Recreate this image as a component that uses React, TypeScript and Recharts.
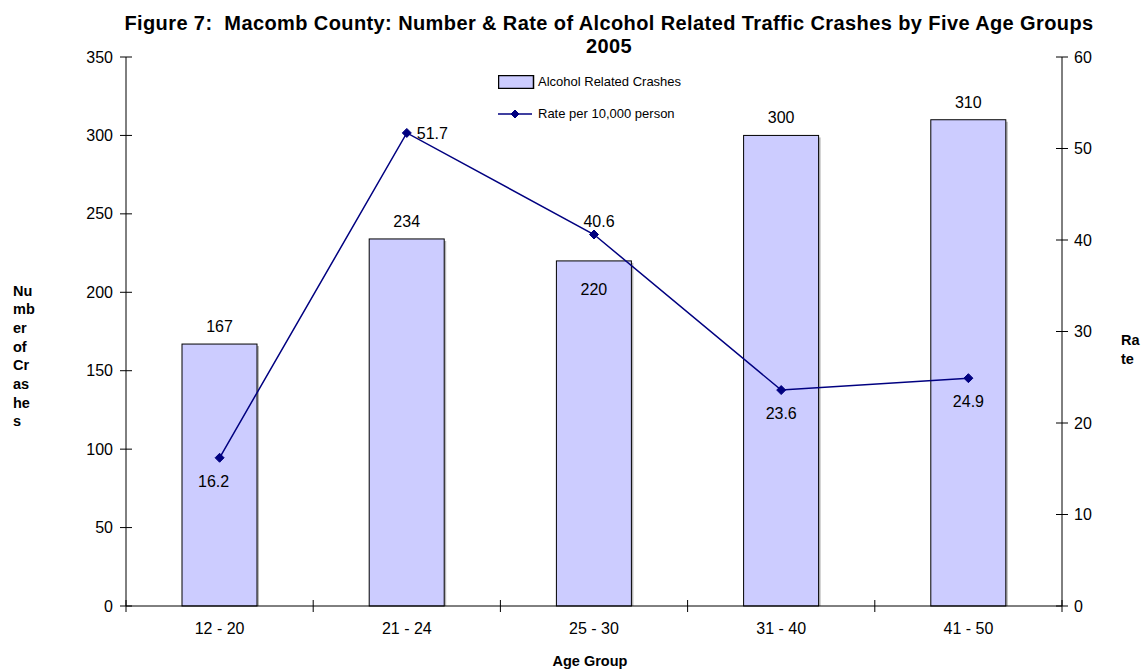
import React from "react";
import {
  ComposedChart,
  Bar,
  Line,
  XAxis,
  YAxis,
  Legend,
  LabelList,
} from "recharts";

const ageGroups = ["12 - 20", "21 - 24", "25 - 30", "31 - 40", "41 - 50"];
const crashes = [167, 234, 220, 300, 310];
const rates = [16.2, 51.7, 40.6, 23.6, 24.9];
const crashTicks = [0, 50, 100, 150, 200, 250, 300, 350];
const rateTicks = [0, 10, 20, 30, 40, 50, 60];

// where Excel put each rate label relative to its point
const rateLabelSpots = ["below-left", "right", "above", "below", "below"];
// bar labels that sit inside the bar instead of above it
const insideBarLabels = new Set(["25 - 30"]);

const data = ageGroups.map((age, i) => ({ age, crashes: crashes[i], rate: rates[i] }));

const W = 1144;
const H = 671;
const LEFT_W = 126;
const RIGHT_W = 82;
const TICK = 6;
const GAP = 7;
const FONT = "'Liberation Sans', Arial, sans-serif";
const NAVY = "#000080";
const BAR_FILL = "#CCCCFF";

const LeftTick = ({ x, y, payload }: any) => {
  const ax = x + TICK + GAP;
  return (
    <g>
      <line x1={ax - TICK} x2={ax + TICK} y1={y} y2={y} stroke="#000" />
      <text x={ax - 13} y={y} dy={5.5} textAnchor="end" fontSize={16} fill="#000" fontFamily={FONT}>
        {payload.value}
      </text>
    </g>
  );
};

const RightTick = ({ x, y, payload }: any) => {
  const ax = x - TICK - GAP;
  return (
    <g>
      <line x1={ax - TICK} x2={ax + TICK} y1={y} y2={y} stroke="#000" />
      <text x={ax + 12} y={y} dy={5.5} textAnchor="start" fontSize={16} fill="#000" fontFamily={FONT}>
        {payload.value}
      </text>
    </g>
  );
};

const step = (W - LEFT_W - RIGHT_W) / ageGroups.length;

const BottomTick = ({ x, y, payload, index }: any) => {
  const ay = y - TICK - GAP;
  return (
    <g>
      {index === 0 && (
        <line x1={x - step / 2} x2={x - step / 2} y1={ay - TICK} y2={ay + TICK} stroke="#000" />
      )}
      <line x1={x + step / 2} x2={x + step / 2} y1={ay - TICK} y2={ay + TICK} stroke="#000" />
      <text x={x} y={ay + 28} textAnchor="middle" fontSize={16} fill="#000" fontFamily={FONT}>
        {payload.value}
      </text>
    </g>
  );
};

const ShadowBar = (props: any) => {
  const { x, y, width, height } = props;
  if (!height) return null;
  return (
    <g>
      <rect x={x + width} y={y + 2} width={2} height={height - 2} fill="#b8b8b8" />
      <rect x={x} y={y} width={width} height={height} fill={BAR_FILL} stroke="#000" strokeWidth={1} />
    </g>
  );
};

const Diamond = ({ cx, cy, r = 4.5 }: any) => (
  <path d={`M${cx},${cy - r}L${cx + r},${cy}L${cx},${cy + r}L${cx - r},${cy}Z`} fill={NAVY} stroke={NAVY} />
);

const BarValue = (props: any) => {
  const { x, y, width, value, index } = props;
  const inside = insideBarLabels.has(ageGroups[index]);
  return (
    <text
      x={x + width / 2}
      y={inside ? y + 34 : y - 12}
      textAnchor="middle"
      fontSize={16}
      fill="#000"
      fontFamily={FONT}
    >
      {value}
    </text>
  );
};

const RateValue = (props: any) => {
  const { x, y, value, index } = props;
  const spot = rateLabelSpots[index];
  let tx = x;
  let ty = y + 29;
  let anchor: any = "middle";
  if (spot === "below-left") tx = x - 6;
  if (spot === "right") {
    tx = x + 10;
    ty = y + 6;
    anchor = "start";
  }
  if (spot === "above") {
    tx = x + 5;
    ty = y - 8;
  }
  return (
    <text x={tx} y={ty} textAnchor={anchor} fontSize={16} fill="#000" fontFamily={FONT}>
      {value}
    </text>
  );
};

const LegendBox = () => (
  <div style={{ fontFamily: FONT, fontSize: 13, color: "#000", lineHeight: "14px" }}>
    <div style={{ display: "flex", alignItems: "center", height: 14 }}>
      <svg width={38} height={14}>
        <rect x={0.5} y={0.5} width={35} height={13} fill={BAR_FILL} stroke="#000" strokeWidth={1.5} />
      </svg>
      <span style={{ marginLeft: 2 }}>Alcohol Related Crashes</span>
    </div>
    <div style={{ display: "flex", alignItems: "center", height: 14, marginTop: 18 }}>
      <svg width={38} height={14}>
        <line x1={0} x2={34} y1={7} y2={7} stroke={NAVY} strokeWidth={1.5} />
        <Diamond cx={17} cy={7} r={4} />
      </svg>
      <span style={{ marginLeft: 2 }}>Rate per 10,000 person</span>
    </div>
  </div>
);

const LeftTitle = ({ viewBox }: any) => {
  const lines = ["Nu", "mb", "er", "of", "Cr", "as", "he", "s"];
  const top = viewBox.y + viewBox.height / 2 - 36;
  return (
    <text fontSize={14.5} fontWeight="bold" fontFamily={FONT} fill="#000">
      {lines.map((l, i) => (
        <tspan key={i} x={viewBox.x + 13} y={top + i * 18.7}>
          {l}
        </tspan>
      ))}
    </text>
  );
};

const RightTitle = ({ viewBox }: any) => {
  const lines = ["Ra", "te"];
  const top = viewBox.y + viewBox.height / 2 + 13;
  return (
    <text fontSize={14.5} fontWeight="bold" fontFamily={FONT} fill="#000">
      {lines.map((l, i) => (
        <tspan key={i} x={viewBox.x + 59} y={top + i * 19}>
          {l}
        </tspan>
      ))}
    </text>
  );
};

const BottomTitle = ({ viewBox }: any) => (
  <text
    x={viewBox.x + viewBox.width / 2 - 4}
    y={666}
    textAnchor="middle"
    fontSize={14.5}
    fontWeight="bold"
    fontFamily={FONT}
    fill="#000"
  >
    Age Group
  </text>
);

export default function App() {
  return (
    <div style={{ position: "absolute", left: 0, top: 0, width: W, height: H, background: "#fff" }}>
      <div
        style={{
          position: "absolute",
          left: 609,
          top: 12,
          transform: "translateX(-50%)",
          whiteSpace: "nowrap",
          textAlign: "center",
          fontFamily: FONT,
          fontWeight: "bold",
          fontSize: 20,
          letterSpacing: 0.4,
          lineHeight: "23px",
        }}
      >
        Figure 7:&nbsp; Macomb County: Number &amp; Rate of Alcohol Related Traffic Crashes by Five Age Groups
        <br />
        2005
      </div>
      <div style={{ position: "absolute", left: 0, top: 0 }}>
        <ComposedChart width={W} height={H} data={data} margin={{ top: 57, right: 0, bottom: 0, left: 0 }}>
          <XAxis
            dataKey="age"
            height={65}
            stroke="#000"
            tickLine={false}
            tickSize={TICK}
            tickMargin={GAP}
            tick={(p: any) => <BottomTick {...p} />}
            interval={0}
            label={<BottomTitle />}
          />
          <YAxis
            yAxisId="left"
            width={LEFT_W}
            domain={[0, 350]}
            ticks={crashTicks}
            stroke="#000"
            tickLine={false}
            tickSize={TICK}
            tickMargin={GAP}
            tick={(p: any) => <LeftTick {...p} />}
            interval={0}
            label={<LeftTitle />}
          />
          <YAxis
            yAxisId="right"
            orientation="right"
            width={RIGHT_W}
            domain={[0, 60]}
            ticks={rateTicks}
            stroke="#000"
            tickLine={false}
            tickSize={TICK}
            tickMargin={GAP}
            tick={(p: any) => <RightTick {...p} />}
            interval={0}
            label={<RightTitle />}
          />
          <Legend
            layout="vertical"
            align="center"
            verticalAlign="middle"
            wrapperStyle={{ top: 75, left: 498, width: 240 }}
            content={<LegendBox />}
          />
          <Bar
            yAxisId="left"
            dataKey="crashes"
            barSize={75}
            shape={(p: any) => <ShadowBar {...p} />}
            isAnimationActive={false}
          >
            <LabelList dataKey="crashes" content={(p: any) => <BarValue {...p} />} />
          </Bar>
          <Line
            yAxisId="right"
            dataKey="rate"
            stroke={NAVY}
            strokeWidth={1.5}
            dot={(p: any) => <Diamond key={p.index} cx={p.cx} cy={p.cy} />}
            activeDot={false}
            isAnimationActive={false}
          >
            <LabelList dataKey="rate" content={(p: any) => <RateValue {...p} />} />
          </Line>
        </ComposedChart>
      </div>
    </div>
  );
}
